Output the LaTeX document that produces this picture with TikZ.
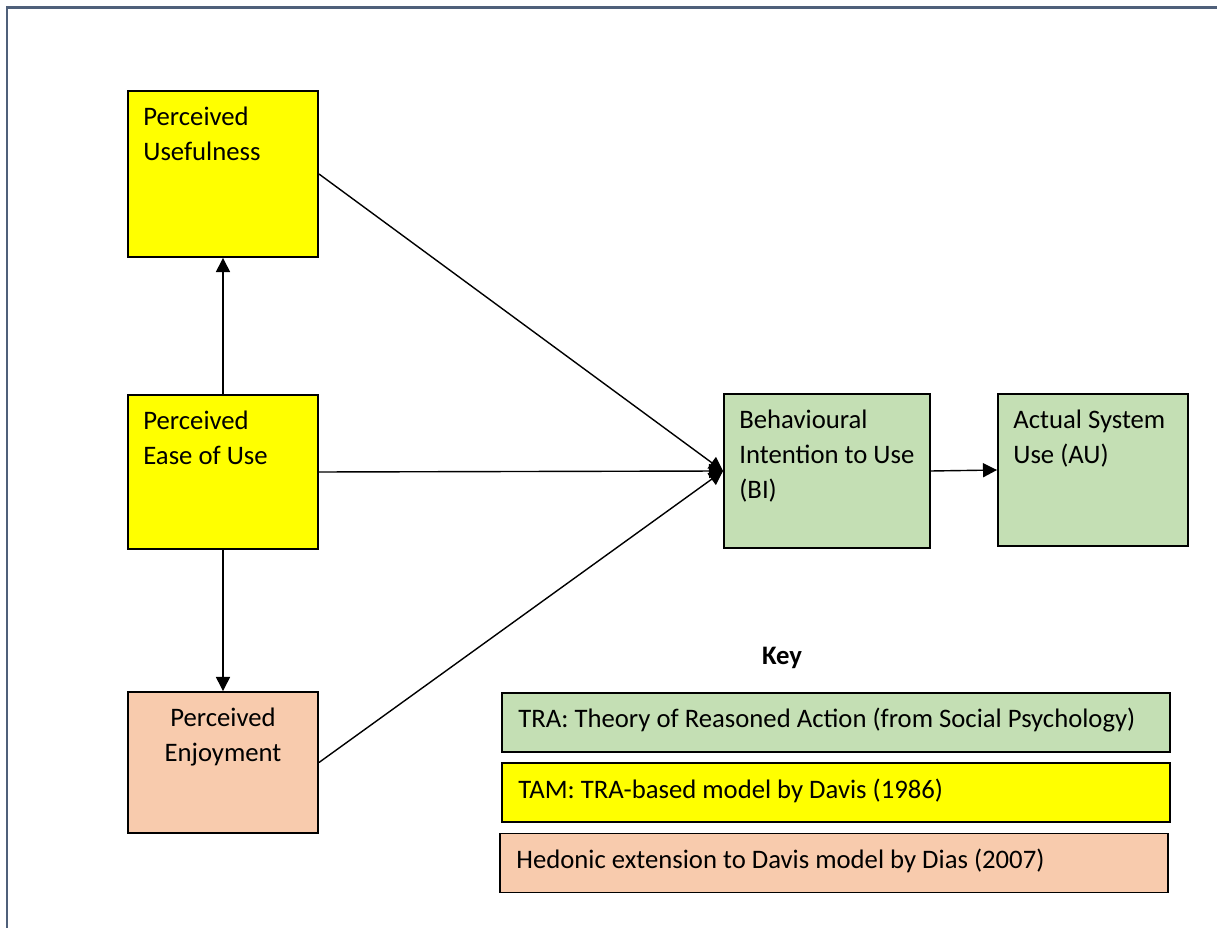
\documentclass[tikz,border=0pt]{standalone}
\usepackage{fontspec}
\setmainfont{Carlito}
\usetikzlibrary{arrows.meta}
\definecolor{tamYellow}{RGB}{255,255,0}
\definecolor{traGreen}{RGB}{196,223,180}
\definecolor{hedPeach}{RGB}{248,203,173}
\definecolor{frameBlue}{RGB}{79,96,122}
\newcommand{\px}{0.02cm}
\newcommand{\modelFont}{\fontsize{15.2}{19.8}\selectfont}
\newcommand{\colWidth}{190}
\newcommand{\keyWidth}{668}
\newcommand{\keyHeight}{59}

\begin{document}
\begin{tikzpicture}[x=\px, y=-\px,
	box/.style={draw, line width=1.1pt, inner sep=0pt},
	boxText/.style={inner sep=0pt, font=\modelFont, align=left, anchor=north west},
	link/.style={line width=0.8pt, -{Triangle[length=8pt,width=8pt]}}]
	
	\useasboundingbox (0,0) rectangle (1217,928);
	\draw[frameBlue, line width=1.7pt] (7,928) -- (7,8) -- (1217,8);
	
	% TAM column
	\node[box, fill=tamYellow, minimum width=\colWidth*\px, minimum height=166*\px] (pu) at (223,174) {};
	\node[box, fill=tamYellow, minimum width=\colWidth*\px, minimum height=154*\px] (peou) at (223,472) {};
	\node[box, fill=hedPeach, minimum width=\colWidth*\px, minimum height=141*\px] (pe) at (223,762.5) {};
	\node[boxText] (pu-text) at ([shift={(16,17)}]pu.north west) {Perceived\\Usefulness};
	\node[boxText] (peou-text) at ([shift={(16,17)}]peou.north west) {Perceived\\Ease of Use};
	\node[boxText, anchor=north, align=center] (pe-text) at ([yshift=-17*\px]pe.north) {Perceived\\Enjoyment};
	
	% TRA boxes
	\node[box, fill=traGreen, minimum width=206*\px, minimum height=154*\px] (bi) at (827,471) {};
	\node[box, fill=traGreen, minimum width=\colWidth*\px, minimum height=152*\px] (au) at (1093,470) {};
	\node[boxText] (bi-text) at ([shift={(16,17)}]bi.north west) {Behavioural\\Intention to Use\\(BI)};
	\node[boxText] (au-text) at ([shift={(16,17)}]au.north west) {Actual System\\Use (AU)};
	
	\draw[link] (peou) -- (pu);
	\draw[link] (peou) -- (pe);
	\draw[link] (pu.east) -- (bi.west);
	\draw[link] (peou.east) -- (bi.west);
	\draw[link] (pe.east) -- (bi.west);
	\draw[link] (bi.east) -- (au.west);
	
	% key
	\node[font=\modelFont\bfseries, inner sep=0pt] (key) at (782,658) {Key};
	\foreach \keyName/\keyX/\keyY/\keyColor/\keyText in {tra/836/722.5/traGreen/TRA: Theory of Reasoned Action (from Social Psychology), tam/836/792.5/tamYellow/TAM: TRA-based model by Davis (1986), hed/834/863/hedPeach/Hedonic extension to Davis model by Dias (2007)}
	{
		\node[box, fill=\keyColor, minimum width=\keyWidth*\px, minimum height=\keyHeight*\px] (\keyName) at (\keyX,\keyY) {};
		\node[boxText, anchor=west] (\keyName-text) at ([xshift=17*\px, yshift=2*\px]\keyName.west) {\keyText};
	}
\end{tikzpicture}
\end{document}
